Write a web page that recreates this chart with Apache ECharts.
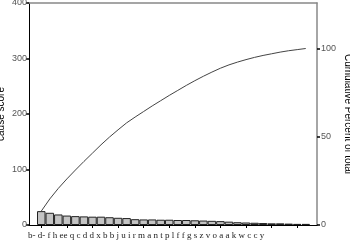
<!DOCTYPE html>
<html><head><meta charset="utf-8">
<script src="https://cdn.jsdelivr.net/npm/echarts@6/dist/echarts.min.js"></script>
<style>html,body{margin:0;padding:0;background:#fff}#c{width:350px;height:240px}</style>
</head><body><div id="c"></div>
<script>
const tickLabels = ['b-','d-','f','h','ee','q','c','d','d','x','b','b','j','u','i','r','m','a','n','t','p','l','f','f','g','s','z','v','o','a','a','k','w','c','c','y'];
const scores = [25, 22, 19, 17, 16, 15.5, 15, 15, 14, 13, 12.5, 10.5, 10, 10, 9.5, 9.5, 9, 9, 8.5, 8, 7.5, 7, 6, 5, 4.5, 4, 3.5, 3, 3, 2.5, 2, 2];
const leftTicks = [0, 100, 200, 300, 400];
const rightTicks = [0, 50, 100];
const leftName = 'cause score';
const rightName = 'Cumulative Percent of total';

const cats = scores.map((_, i) => String(i + 1));
const cumulative = [];
scores.reduce((s, v) => { s += v; cumulative.push(s); return s; }, 0);
const total = cumulative[cumulative.length - 1];
const leftMax = 400;
const rightMax = leftMax * 100 / total;

const frame = {left: 29, right: 33, top: 3, bottom: 15, outerBoundsMode: 'none', containLabel: false};
const chart = echarts.init(document.getElementById('c'), null, {renderer: 'canvas'});
chart.setOption({
  animation: false,
  backgroundColor: '#fff',
  title: {
    text: tickLabels.join(' '),
    left: 28, top: 231, padding: 0,
    textStyle: {fontFamily: 'Liberation Serif', fontSize: 9, fontWeight: 'normal', color: '#222'}
  },
  grid: [
    Object.assign({}, frame),
    {left: 37, right: 40, top: 3, bottom: 15, outerBoundsMode: 'none', containLabel: false},
    Object.assign({}, frame)
  ],
  xAxis: [
    {gridIndex: 0, type: 'value', min: 0, max: 1, position: 'bottom',
     axisLine: {show: true, onZero: false, lineStyle: {color: '#000', width: 1}},
     axisTick: {show: false}, axisLabel: {show: false}, splitLine: {show: false}},
    {gridIndex: 1, type: 'category', data: cats, boundaryGap: true,
     axisLine: {show: false, onZero: false},
     axisTick: {show: true, alignWithLabel: true, length: 3, lineStyle: {color: '#000'}},
     axisLabel: {show: false}, splitLine: {show: false}},
    {gridIndex: 2, type: 'value', min: 0, max: 1, position: 'top',
     axisLine: {show: true, onZero: false, lineStyle: {color: '#888', width: 1.5}},
     axisTick: {show: false}, axisLabel: {show: false}, splitLine: {show: false}}
  ],
  yAxis: [
    {gridIndex: 0, type: 'value', min: 0, max: leftMax, interval: 100, position: 'left',
     name: leftName, nameLocation: 'middle', nameGap: 23, nameMoveOverlap: false,
     nameTextStyle: {fontFamily: 'Liberation Sans', fontSize: 10, color: '#000'},
     axisLine: {show: true, onZero: false, lineStyle: {color: '#000', width: 1}},
     axisTick: {show: true, length: 3, lineStyle: {color: '#000', width: 1.5}},
     axisLabel: {margin: 2, fontFamily: 'Liberation Sans', fontSize: 9, color: '#555'},
     splitLine: {show: false}},
    {gridIndex: 1, type: 'value', min: 0, max: leftMax, show: false},
    {gridIndex: 2, type: 'value', min: 0, max: rightMax, interval: 50, position: 'right',
     name: rightName, nameLocation: 'middle', nameGap: 26, nameRotate: -90, nameMoveOverlap: false,
     nameTextStyle: {fontFamily: 'Liberation Sans', fontSize: 10, color: '#000'},
     axisLine: {show: true, onZero: false, lineStyle: {color: '#888', width: 1.5}},
     axisTick: {show: true, length: 3, lineStyle: {color: '#000', width: 1.5}},
     axisLabel: {margin: 4, fontFamily: 'Liberation Sans', fontSize: 9, color: '#555',
                 showMaxLabel: false,
                 formatter: v => rightTicks.indexOf(v) >= 0 ? String(v) : ''},
     splitLine: {show: false}}
  ],
  series: [
    {type: 'bar', xAxisIndex: 1, yAxisIndex: 1, data: scores, barCategoryGap: '0%',
     itemStyle: {color: '#c4c4c4', borderColor: '#222', borderWidth: 1}},
    {type: 'line', xAxisIndex: 1, yAxisIndex: 1, data: cumulative, symbol: 'none', z: 5,
     lineStyle: {color: '#444', width: 1}}
  ]
});
</script></body></html>
